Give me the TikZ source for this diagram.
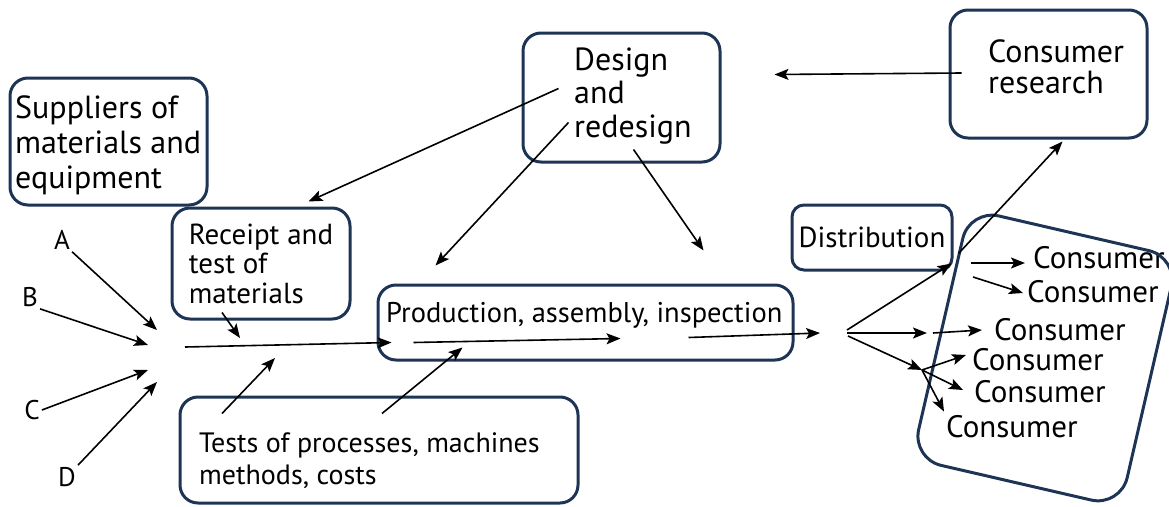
\documentclass[tikz,border=0pt]{standalone}
\usepackage{fontspec}
\setmainfont{PT Sans}
\usetikzlibrary{arrows.meta,calc,positioning}
\definecolor{boxblue}{RGB}{30,52,84}
\tikzset{
  box/.style={draw=boxblue, line width=3pt, rounded corners=18pt, align=left, inner sep=0pt},
  boxtext/.style={anchor=west, align=left, inner sep=0pt},
  flow/.style={-{Stealth[length=14pt,width=11pt,inset=3pt]}, line width=1.6pt},
  consumer/.style={anchor=west, inner sep=0pt, font=\fontsize{31}{36}\selectfont},
  letter/.style={inner sep=2pt, font=\fontsize{27}{30}\selectfont}
}

\begin{document}
\begin{tikzpicture}[x=1pt, y=-1pt]
  \useasboundingbox (0,0) rectangle (1169,506);

  \node [box, minimum width=197pt, minimum height=127pt] (suppliers) at (108.5,141.5) {};
  \node [boxtext, font=\fontsize{32}{35}\selectfont] (supplierstext) at (15,145) {Suppliers of\\materials and\\equipment};
  \node [box, minimum width=178pt, minimum height=111pt, font=\fontsize{29}{29.5}\selectfont] (receipt) at (261,263.5) {Receipt and\\test of\\materials};

  \node [box, minimum width=197pt, minimum height=129pt] (design) at (621.5,97.5) {};
  \node [boxtext, font=\fontsize{32}{33.5}\selectfont] (designtext) at (574,96) {Design\\and\\redesign};
  \node [box, minimum width=197pt, minimum height=128pt] (research) at (1048.5,74) {};
  \node [boxtext, font=\fontsize{32}{31}\selectfont] (researchtext) at (988,67) {Consumer\\research};
  \node [box, minimum width=415pt, minimum height=75pt] (prod) at (585.5,322.5) {};
  \node [boxtext, font=\fontsize{28.5}{30}\selectfont] (prodtext) at (386,315) {Production, assembly, inspection};
  \node [box, minimum width=398pt, minimum height=106pt] (tests) at (379,450) {};
  \node [boxtext, font=\fontsize{28}{32}\selectfont] (teststext) at (199,461) {Tests of processes, machines\\methods, costs};
  \node [box, rounded corners=12pt, minimum width=160pt, minimum height=65pt, font=\fontsize{29}{30}\selectfont] (distrib) at (872,237.5) {Distribution};

  % the market
  \node [consumer] (c1) at (1033,258) {Consumer};
  \node [consumer] (c2) at (1027,292) {Consumer};
  \node [consumer] (c3) at (994,330) {Consumer};
  \node [consumer] (c4) at (972,360) {Consumer};
  \node [consumer] (c5) at (974,392) {Consumer};
  \node [consumer] (c6) at (946,427) {Consumer};
  \node [box, rounded corners=30pt, minimum width=214pt, minimum height=256pt, rotate=-13] (market) at (1045,358) {};

  \node [letter] (A) at (62,240) {A};
  \node [letter] (B) at (30,297) {B};
  \node [letter] (C) at (32,410) {C};
  \node [letter] (D) at (67,477) {D};

  \coordinate (hub) at (160,355);
  \coordinate (fan) at (847,333);
  \coordinate (split) at (922,370);

  \draw [flow] ($(research.west)+(13,-1)$) -- ($(design.east)+(53,-23)$);
  \draw [flow] ($(design.west)+(37,-9)$) -- ($(receipt.north east)+(-43,-5)$);
  \draw [flow] ($(design.west)+(47,25)$) -- ($(prod.north west)+(59,-18)$);
  \draw [flow] ($(design.south)+(12,-14)$) -- ($(prod.north east)+(-91,-33)$);

  \draw [flow] (A.south east) -- ($(hub)+(-3,-25)$);
  \draw [flow] (B.south east) -- ($(hub)+(-12,-10)$);
  \draw [flow] (C.east) -- ($(hub)+(-12,15)$);
  \draw [flow] (D.north east) -- ($(hub)+(-3,27)$);

  \draw [flow] ($(hub)+(25,-8)$) -- ($(prod.west)+(15,20)$);
  \draw [flow] ($(receipt.south)+(-39,-8)$) -- ($(hub)+(80,-17)$);
  \draw [flow] ($(tests.north)+(-157,18)$) -- ($(hub)+(115,3)$);
  \draw [flow] ($(prod.center)+(-172,20)$) -- ($(prod.center)+(35,16)$);
  \draw [flow] ($(tests.north)+(3,18)$) -- ($(prod.center)+(-123,25)$);
  \draw [flow] ($(prod.center)+(103,15)$) -- ($(fan)+(-27,0)$);

  \draw [flow] ($(fan)+(0,-3)$) -- ($(distrib.south east)+(-2,-8)$);
  \draw [flow] ($(distrib.south east)+(5,-18)$) -- ($(research.south)+(14,2)$);
  \draw [flow] (fan) -- ($(fan)+(80,0)$);
  \draw [flow] ($(fan)+(86,0)$) -- ($(c3.west)+(-12,0)$);
  \draw [flow] ($(fan)+(1,3)$) -- (split);
  \draw [flow] (split) -- ($(c4.west)+(-6,-5)$);
  \draw [flow] (split) -- ($(c5.west)+(-11,-2)$);
  \draw [flow] (split) -- ($(c6.north west)+(-2,-4)$);
  \draw [flow] ($(c1.west)+(-62,5)$) -- ($(c1.west)+(-8,5)$);
  \draw [flow] ($(c2.west)+(-54,-15)$) -- ($(c2.west)+(-4,1)$);

\end{tikzpicture}
\end{document}
